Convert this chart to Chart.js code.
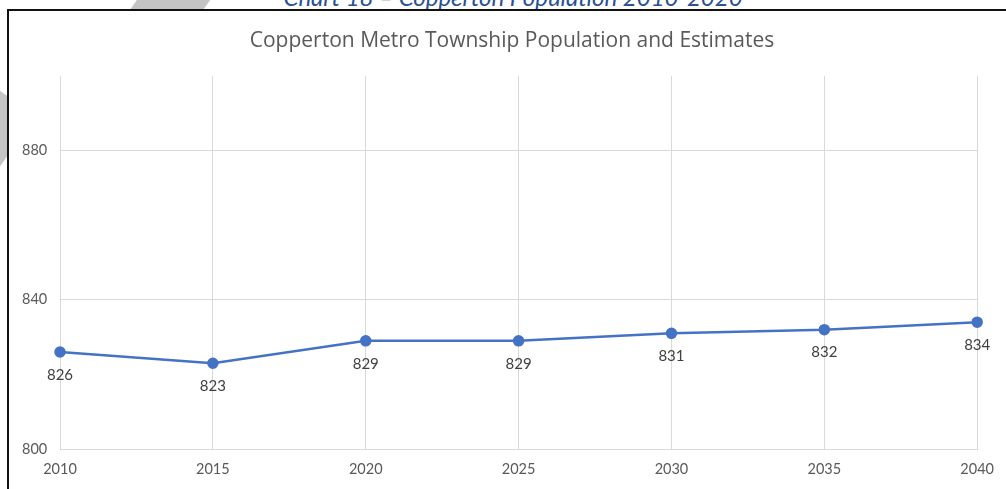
<!DOCTYPE html>
<html>
<head>
<meta charset="utf-8">
<script src="https://cdn.jsdelivr.net/npm/chart.js@4"></script>
<style>
    html, body { margin: 0; padding: 0; }
    body { width: 1006px; height: 489px; overflow: hidden; position: relative; background: #fff; font-family: Lato, sans-serif; }
    .stripe { position: absolute; background: #c4c4c4; transform: rotate(35deg); }
    .caption { position: absolute; left: 0; width: 1026px; top: -18px; text-align: center; font-style: italic; font-size: 24px; color: #2a5192; white-space: nowrap; }
    .box { position: absolute; left: 7px; top: 9px; width: 1100px; height: 600px; border-left: 2px solid #111; border-top: 2px solid #111; background: #fff; }
    .wrap { position: absolute; left: 0; top: 0; width: 1006px; height: 489px; }
</style>
</head>
<body>
<div class="stripe" style="left:140px; top:-40px; width:60px; height:90px;"></div>
<div class="stripe" style="left:-30px; top:95px; width:50px; height:70px;"></div>
<div class="caption">Chart 18 – Copperton Population 2010-2020</div>
<div class="box"></div>
<div class="wrap"><canvas id="popChart"></canvas></div>

<script>
const years = ['2010', '2015', '2020', '2025', '2030', '2035', '2040'];
const population = [826, 823, 829, 829, 831, 832, 834];
const yTicks = [800, 840, 880];

const textColor = '#595959';
const gridColor = '#d9d9d9';
const lineColor = '#4472c4';

// labels under each point, like the Excel data labels
const pointLabels = {
    id: 'pointLabels',
    afterDatasetsDraw(chart) {
        const ctx = chart.ctx;
        const meta = chart.getDatasetMeta(0);
        ctx.save();
        ctx.font = '15px Lato, sans-serif';
        ctx.fillStyle = '#404040';
        ctx.textAlign = 'center';
        ctx.textBaseline = 'middle';
        meta.data.forEach((pt, i) => {
            ctx.fillText(String(population[i]), pt.x, pt.y + 23);
        });
        ctx.restore();
    }
};

new Chart(document.querySelector('#popChart'), {
    type: 'line',
    data: {
        labels: years,
        datasets: [{
            data: population,
            borderColor: lineColor,
            backgroundColor: lineColor,
            borderWidth: 2.5,
            pointRadius: 4.5,
            pointHoverRadius: 4.5,
            tension: 0
        }]
    },
    options: {
        responsive: true,
        maintainAspectRatio: false,
        animation: false,
        // left padding pushes the title centre right; y labels are mirrored back out with a negative padding
        layout: {
            padding: { left: 46, right: 28, top: 0, bottom: 0 }
        },
        plugins: {
            legend: { display: false },
            tooltip: { enabled: false },
            title: {
                display: true,
                text: 'Copperton Metro Township Population and Estimates',
                color: textColor,
                font: { family: '"Open Sans", sans-serif', size: 21, weight: 'normal', lineHeight: 1.2 },
                padding: { top: 28, bottom: 22.8 }
            }
        },
        scales: {
            x: {
                offset: false,
                grid: { color: gridColor, drawTicks: false },
                border: { color: gridColor },
                ticks: { color: textColor, font: { family: 'Lato, sans-serif', size: 14.5 }, padding: 12, maxRotation: 0 },
                afterFit(scale) { scale.height = 40; }
            },
            y: {
                min: 800,
                max: 900,
                grid: { color: gridColor, drawTicks: false },
                border: { display: false },
                ticks: {
                    color: textColor,
                    font: { family: 'Lato, sans-serif', size: 14.5 },
                    mirror: true,
                    padding: -38,
                    includeBounds: false
                },
                afterBuildTicks(scale) {
                    scale.ticks = yTicks.map(v => ({ value: v }));
                },
                afterFit(scale) { scale.width = 14; }
            }
        }
    },
    plugins: [pointLabels]
});
</script>
</body>
</html>
